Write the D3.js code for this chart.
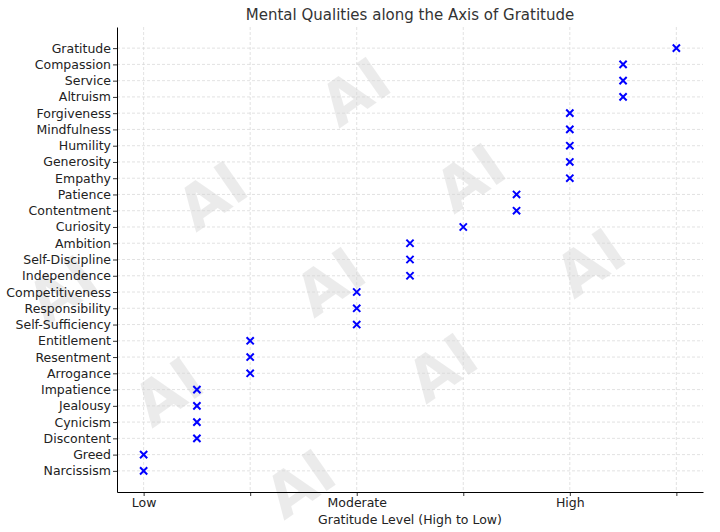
<!DOCTYPE html>
<html>
<head>
<meta charset="utf-8">
<script src="https://cdn.jsdelivr.net/npm/d3@7"></script>
<style>
  body { margin: 0; background: #fff; }
  text { font-family: "DejaVu Sans", sans-serif; }
</style>
</head>
<body>
<div id="chart"></div>
<script>
// qualities from bottom (Low) to top (High)
const qualities = [
    "Narcissism", "Greed", "Discontent", "Cynicism", "Jealousy", "Impatience",
    "Arrogance", "Resentment", "Entitlement", "Self-Sufficiency", "Responsibility",
    "Competitiveness", "Independence", "Self-Discipline", "Ambition", "Curiosity",
    "Contentment", "Patience", "Empathy", "Generosity", "Humility", "Mindfulness",
    "Forgiveness", "Altruism", "Service", "Compassion", "Gratitude"
];
const levels = [1, 1, 2, 2, 2, 2, 3, 3, 3, 5, 5, 5, 6, 6, 6, 7, 8, 8, 9, 9, 9, 9, 9, 10, 10, 10, 11];

const xTicks = [1, 3, 5, 7, 9, 11];
const xTickLabels = ["Low", "", "Moderate", "", "High", ""];

// watermark centres
const marks = [[355, 92], [470, 178], [590, 263], [212, 196], [330, 282], [442, 368], [62, 290], [168, 392], [300, 484]];

const width = 720, height = 532;
const margin = { top: 27, right: 17, bottom: 40, left: 117 };
const plotW = width - margin.left - margin.right;
const plotH = height - margin.top - margin.bottom;

const svgRoot = d3.select("#chart").append("svg")
    .attr("width", width)
    .attr("height", height);

// watermark layer
svgRoot.append("g").selectAll("text")
    .data(marks)
    .enter()
    .append("text")
    .attr("transform", d => `translate(${d[0]}, ${d[1]}) rotate(-35)`)
    .attr("text-anchor", "middle")
    .attr("dy", "0.35em")
    .style("font-size", "60px")
    .style("font-weight", "bold")
    .style("fill", "#000")
    .style("fill-opacity", 0.08)
    .text("AI");

const svg = svgRoot.append("g")
    .attr("transform", `translate(${margin.left}, ${margin.top})`);

const xScale = d3.scaleLinear().domain([0.5, 11.5]).range([0, plotW]);
const n = qualities.length;
const yScale = d3.scaleLinear().domain([-1.3, n - 1 + 1.3]).range([plotH, 0]);

// grid
svg.append("g").selectAll("line")
    .data(xTicks)
    .enter().append("line")
    .attr("x1", d => xScale(d)).attr("x2", d => xScale(d))
    .attr("y1", 0).attr("y2", plotH)
    .attr("stroke", "#d6d6d6").attr("stroke-width", 0.7)
    .attr("stroke-dasharray", "3,2");

svg.append("g").selectAll("line")
    .data(qualities)
    .enter().append("line")
    .attr("x1", 0).attr("x2", plotW)
    .attr("y1", (d, i) => yScale(i)).attr("y2", (d, i) => yScale(i))
    .attr("stroke", "#d6d6d6").attr("stroke-width", 0.7)
    .attr("stroke-dasharray", "3,2");

// axes
const xAxis = d3.axisBottom(xScale)
    .tickValues(xTicks)
    .tickFormat((d, i) => xTickLabels[i])
    .tickSize(4)
    .tickSizeOuter(0);

const yAxis = d3.axisLeft(yScale)
    .tickValues(d3.range(n))
    .tickFormat(i => qualities[i])
    .tickSize(4)
    .tickSizeOuter(0);

const gx = svg.append("g")
    .attr("transform", `translate(0, ${plotH})`)
    .call(xAxis);
const gy = svg.append("g").call(yAxis);

[gx, gy].forEach(g => {
    g.select(".domain").attr("stroke", "#000").attr("stroke-width", 1);
    g.selectAll(".tick line").attr("stroke", "#000").attr("stroke-width", 0.8);
    g.selectAll(".tick text")
        .style("font-family", "'DejaVu Sans', sans-serif")
        .style("font-size", "12.5px")
        .style("fill", "#222");
});
gx.selectAll(".tick text").attr("y", 6).attr("dy", "0.71em");
gy.selectAll(".tick text").attr("x", -6);

// x markers
const s = 3.6;
svg.append("g").selectAll("path")
    .data(qualities)
    .enter()
    .append("path")
    .attr("transform", (d, i) => `translate(${xScale(levels[i])}, ${yScale(i)})`)
    .attr("d", `M${-s},${-s}L${s},${s}M${-s},${s}L${s},${-s}`)
    .attr("stroke", "#0000ff")
    .attr("stroke-width", 2)
    .attr("fill", "none");

// title and label
svgRoot.append("text")
    .attr("x", margin.left + plotW / 2)
    .attr("y", 20)
    .attr("text-anchor", "middle")
    .style("font-size", "15px")
    .style("fill", "#333")
    .text("Mental Qualities along the Axis of Gratitude");

svgRoot.append("text")
    .attr("x", margin.left + plotW / 2)
    .attr("y", 524)
    .attr("text-anchor", "middle")
    .style("font-size", "12.5px")
    .style("fill", "#222")
    .text("Gratitude Level (High to Low)");
</script>
</body>
</html>
